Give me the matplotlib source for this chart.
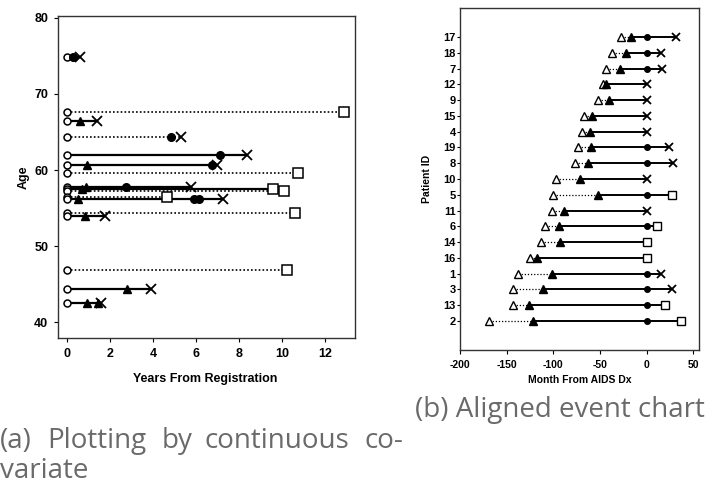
import matplotlib
matplotlib.use("Agg")
import matplotlib.pyplot as plt

# ---------------- Panel (a) data ----------------
ages = [74.9, 67.6, 66.4, 64.3, 62.0, 60.6, 59.6, 57.8, 57.5, 57.2, 56.4, 56.2, 54.4, 53.9, 46.9, 44.3, 42.5]
a_style = ['solid', 'dotted', 'solid', 'dotted', 'solid', 'solid', 'dotted', 'solid', 'solid', 'dotted',
           'dotted', 'solid', 'dotted', 'solid', 'dotted', 'solid', 'solid']
a_tri = [[], [], [0.6], [], [], [0.95], [], [0.9], [0.7], [], [], [0.5], [], [0.84], [], [2.8], [0.94, 1.45]]
a_circ = [[0.3], [], [], [4.84], [7.1], [6.76], [], [2.74], [], [], [], [5.9, 6.15], [], [], [], [], []]
a_x = [[0.6], [], [1.4], [5.3], [8.36], [6.96], [], [5.75], [], [], [], [7.27], [], [1.77], [], [3.9], [1.6]]
a_sq = [[], [12.9], [], [], [], [], [10.76], [], [9.6], [10.1], [4.65], [], [10.6], [], [10.25], [], []]
a_xticks = [0, 2, 4, 6, 8, 10, 12]
a_yticks = [40, 50, 60, 70, 80]

# ---------------- Panel (b) data ----------------
pid = [2, 13, 3, 1, 16, 14, 6, 11, 5, 10, 8, 19, 4, 15, 9, 12, 7, 18, 17]
open_tri = [-169, -143, -143, -138, -125, -113.5, -108.5, -101, -100, -97, -77, -74, -69, -67, -52, -47, -43.6, -37.6, -27.7]
filled_tri = [-122, -126, -111, -101, -118, -92.5, -94, -88.6, -52, -72, -63, -60, -61, -59, -40, -43.6, -28.7, -22, -17]
end_val = [37, 20, 27, 15, 0, 0, 10.6, 0, 27, 0, 28, 23.7, 0, 0, 0, 0, 16.7, 15, 31]
end_type = ['sq', 'sq', 'x', 'x', 'sq', 'sq', 'sq', 'x', 'sq', 'x', 'x', 'x', 'x', 'x', 'x', 'x', 'x', 'x', 'x']
b_xticks = [-200, -150, -100, -50, 0, 50]

# caption text
cap_a_words = ['(a)', 'Plotting', 'by', 'continuous', 'co-']
cap_a_line2 = 'variate'
cap_b = '(b) Aligned event chart'

W, H = 705, 487
plt.rcParams['font.family'] = ['Liberation Sans', 'DejaVu Sans']
plt.rcParams['axes.unicode_minus'] = False
fig = plt.figure(figsize=(W / 100, H / 100), dpi=100)

# ---------------- Panel (a) ----------------
a_fs = 9
ax = fig.add_axes([58 / W, 1 - 338 / H, (355 - 58) / W, (338 - 15.7) / H])
dot = (0, (1, 1.3))
for i, age in enumerate(ages):
    evs = a_tri[i] + a_circ[i] + a_x[i] + a_sq[i]
    end = max(evs)
    ls = '-' if a_style[i] == 'solid' else dot
    lw = 1.6 if a_style[i] == 'solid' else 1.2
    ax.plot([0, end], [age, age], color='black', lw=lw, ls=ls, zorder=2)
    ax.plot([0], [age], marker='o', ms=5, mfc='white', mec='black', mew=1.1, zorder=3, ls='none')
    if a_tri[i]:
        ax.plot(a_tri[i], [age] * len(a_tri[i]), marker='^', ms=6, color='black', ls='none', zorder=4)
    if a_circ[i]:
        ax.plot(a_circ[i], [age] * len(a_circ[i]), marker='o', ms=5.5, color='black', ls='none', zorder=4)
    if a_x[i]:
        ax.plot(a_x[i], [age] * len(a_x[i]), marker='x', ms=7, mew=1.3, color='black', ls='none', zorder=4)
    if a_sq[i]:
        ax.plot(a_sq[i], [age] * len(a_sq[i]), marker='s', ms=6.5, mfc='white', mec='black', mew=1.1, ls='none', zorder=4)
ax.set_xlim(-0.42, 13.4)
ax.set_ylim(37.9, 80.3)
ax.set_xticks(a_xticks)
ax.set_yticks(a_yticks)
ax.tick_params(labelsize=a_fs, length=3, width=0.8, direction='out', pad=4)
for lab in ax.get_xticklabels() + ax.get_yticklabels():
    lab.set_fontweight('bold')
ax.set_xlabel('Years From Registration', fontsize=a_fs, fontweight='bold')
ax.set_ylabel('Age', fontsize=a_fs, fontweight='bold')
ax.xaxis.set_label_coords((205 - 58) / 297, (338 - 373) / 322.3)
ax.yaxis.set_label_coords((30 - 58) / 297, 0.5)
for s in ax.spines.values():
    s.set_linewidth(1.0)
    s.set_color('#333333')

# ---------------- Panel (b) ----------------
b_fs = 7.5
bx = fig.add_axes([460 / W, 1 - 350 / H, (699 - 460) / W, (350 - 8) / H])
ypos = list(range(1, len(pid) + 1))
for i, y in enumerate(ypos):
    bx.plot([open_tri[i], filled_tri[i]], [y, y], color='black', lw=0.9, ls=(0, (1, 1.5)), zorder=2)
    bx.plot([filled_tri[i], end_val[i]], [y, y], color='black', lw=1.4, zorder=2)
    bx.plot([open_tri[i]], [y], marker='^', ms=6, mfc='white', mec='black', mew=1.0, ls='none', zorder=3)
    bx.plot([filled_tri[i]], [y], marker='^', ms=5.5, color='black', ls='none', zorder=3)
    if end_val[i] > 0:
        bx.plot([0], [y], marker='o', ms=4, color='black', ls='none', zorder=3)
    if end_type[i] == 'x':
        bx.plot([end_val[i]], [y], marker='x', ms=6, mew=1.3, color='black', ls='none', zorder=4)
    else:
        bx.plot([end_val[i]], [y], marker='s', ms=6, mfc='white', mec='black', mew=1.0, ls='none', zorder=4)
bx.set_xlim(-200, 56)
bx.set_ylim(-0.85, 20.85)
bx.set_xticks(b_xticks)
bx.set_yticks(ypos)
bx.set_yticklabels([str(p) for p in pid])
bx.tick_params(axis='x', labelsize=b_fs, length=3, width=0.8, direction='out', pad=4)
bx.tick_params(axis='y', labelsize=8, length=2, width=0.8, direction='out', pad=1)
for lab in bx.get_xticklabels() + bx.get_yticklabels():
    lab.set_fontweight('bold')
bx.set_xlabel('Month From AIDS Dx', fontsize=b_fs, fontweight='bold')
bx.set_ylabel('Patient ID', fontsize=b_fs, fontweight='bold')
bx.xaxis.set_label_coords((580 - 460) / 239, (350 - 375) / 342)
bx.yaxis.set_label_coords((432 - 460) / 239, 0.5)
for s in bx.spines.values():
    s.set_linewidth(1.0)
    s.set_color('#333333')

# ---------------- Captions ----------------
cap_color = '#6a6a6a'
cap_fs = 20
cap_fam = ['Open Sans', 'DejaVu Sans']
word_x = [0, 47, 162, 205, 365]
for wx, word in zip(word_x, cap_a_words):
    fig.text(wx / W, 1 - 448 / H, word, fontsize=cap_fs, color=cap_color,
             family=cap_fam, ha='left', va='baseline')
fig.text(0 / W, 1 - 478 / H, cap_a_line2, fontsize=cap_fs, color=cap_color,
         family=cap_fam, ha='left', va='baseline')
fig.text(415 / W, 1 - 417 / H, cap_b, fontsize=cap_fs, color=cap_color,
         family=cap_fam, ha='left', va='baseline')

fig.savefig('out.png', dpi=100)
